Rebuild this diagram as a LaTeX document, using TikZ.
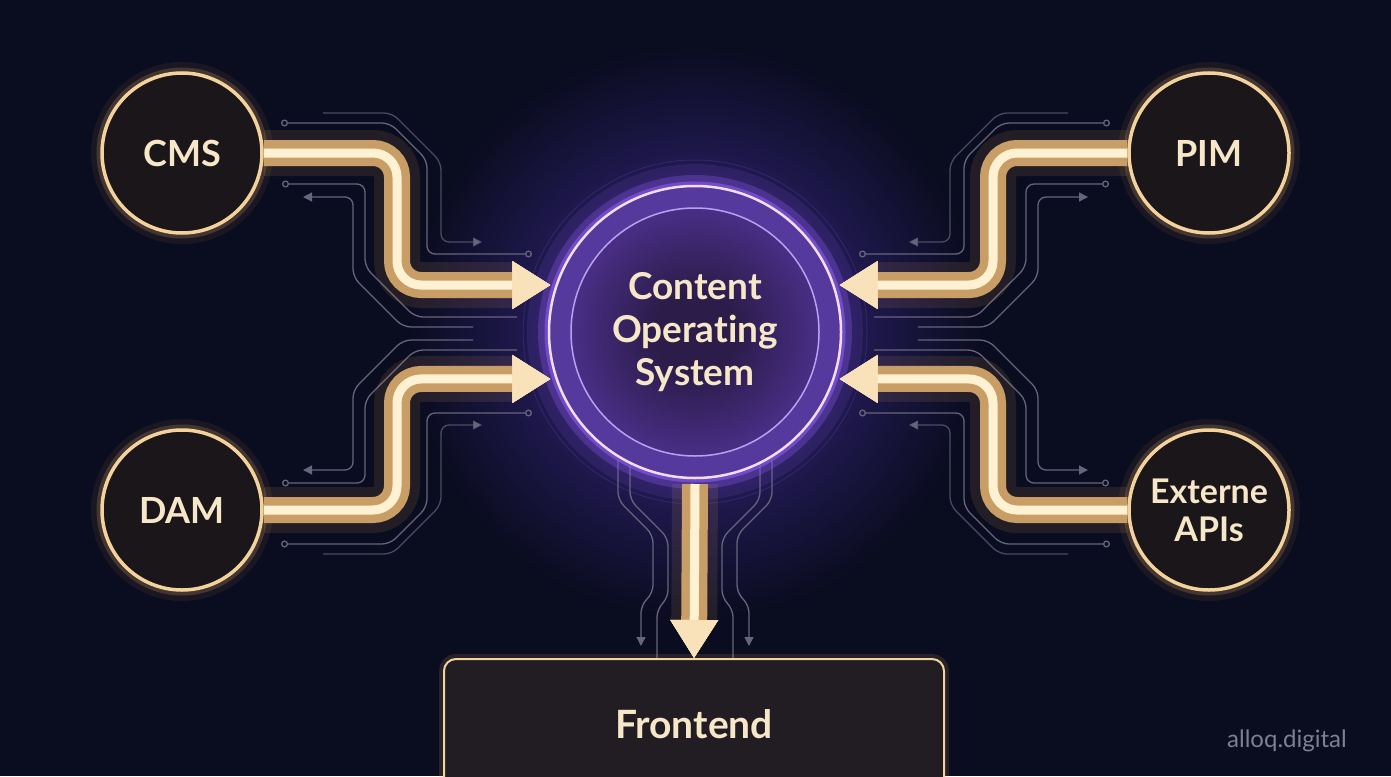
\documentclass[tikz,border=0pt]{standalone}
\usepackage{fontspec}
\setmainfont{Lato}[Ligatures=NoCommon]
\usetikzlibrary{arrows.meta, calc}

\definecolor{bgnavy}{HTML}{0A0C1F}
\definecolor{halo}{HTML}{2A1F66}
\definecolor{ringtan}{HTML}{F3D29C}
\definecolor{glowtan}{HTML}{D9A45C}
\definecolor{nodefill}{HTML}{1B1619}
\definecolor{labelcream}{HTML}{F7E7C9}
\definecolor{flowtan}{HTML}{C99E66}
\definecolor{flowcore}{HTML}{FFF1D2}
\definecolor{flowhead}{HTML}{F9E2B9}
\definecolor{tracegray}{HTML}{66657C}
\definecolor{cosband}{HTML}{56399C}
\definecolor{cosring}{HTML}{F2DDF2}
\definecolor{cosglow}{HTML}{8D5CF0}
\definecolor{cosedge}{HTML}{B8A2EE}
\definecolor{cosinner}{HTML}{2B1C49}
\definecolor{cosmid}{HTML}{4A2E86}
\definecolor{frontfill}{HTML}{221C23}
\definecolor{markgray}{HTML}{7E8092}

\pgfdeclareradialshading{cosfill}{\pgfpoint{0bp}{0bp}}{color(0bp)=(cosinner); color(8bp)=(cosinner); color(25bp)=(cosmid); color(50bp)=(cosmid)}
\pgfdeclareradialshading{bghalo}{\pgfpoint{0bp}{0bp}}{color(0bp)=(halo); color(9bp)=(halo); color(24bp)=(bgnavy); color(50bp)=(bgnavy)}

\tikzset{%
    portring/.tip={Circle[open, length=7pt]},
    feed/.tip={Triangle[length=9pt, width=9pt]},
    trace/.style={draw=tracegray, line width=1.3pt, rounded corners=8pt},
    source/.style={%
        circle, minimum size=160pt, draw=ringtan, line width=3.5pt,
        fill=nodefill, text=labelcream, align=center,
        font=\fontsize{36}{40}\selectfont\bfseries,
        preaction={draw=glowtan, line width=22pt, draw opacity=.08},
        preaction={draw=glowtan, line width=11pt, draw opacity=.22}
    },
    cos ring/.style={%
        circle, minimum size=292pt, fill=cosband, draw=cosring,
        line width=2.5pt, outer sep=6pt,
        preaction={draw=cosglow, line width=44pt, draw opacity=.12},
        preaction={draw=cosglow, line width=22pt, draw opacity=.3},
        preaction={draw=cosglow, line width=9pt, draw opacity=.6}
    },
    cos core/.style={%
        circle, minimum size=248pt, shade, shading=cosfill, draw=cosedge,
        line width=1.5pt, text=labelcream, align=center,
        font=\fontsize{37}{43}\selectfont\bfseries
    },
    front box/.style={%
        rectangle, rounded corners=12pt, minimum width=500pt,
        minimum height=130pt, fill=frontfill, draw=ringtan, line width=2pt,
        text=labelcream, font=\fontsize{39}{42}\selectfont\bfseries,
        preaction={draw=glowtan, line width=10pt, draw opacity=.15}
    },
    flow/.style={rounded corners=24pt,
        -{Triangle[length=38pt, width=48pt, line width=.5pt, color=flowhead]}},
    flowglow/.style={flow, line width=46pt, draw=glowtan, draw opacity=.12},
    flowbody/.style={flow, line width=26pt, draw=flowtan},
    flowcore/.style={flow, line width=9pt, draw=flowcore}
}

\begin{document}
\begin{tikzpicture}[x=1pt, y=-1pt]
\fill[bgnavy] (0,0) rectangle (1391,776);
\useasboundingbox (0,0) rectangle (1391,776);
\shade[shading=bghalo] (695,332) circle (300pt);

% circuit traces, one quadrant mirrored four times
\foreach \sx/\sy in {1/1, -1/1, 1/-1, -1/-1} {
  \begin{scope}[shift={({(1-(\sx))*695.5},{(1-(\sy))*333.5})}, xscale=\sx, yscale=\sy]
    \draw[trace, {portring}-{portring}] (281,123) -- (390,123) -- (427,160) -- (427,254) -- (532,254);
    \draw[trace, draw opacity=.7, -{feed}] (323,113) -- (392,113) -- (441,162) -- (441,242) -- (482,242);
    \draw[trace, {portring}-] (282,184) -- (365,184) -- (365,267) -- (415,317) -- (517,317);
    \draw[trace, {feed}-] (303,197) -- (353,197) -- (353,277) -- (403,327) -- (473,327);
  \end{scope}
}
\foreach \sx in {1, -1} {
  \begin{scope}[shift={({(1-(\sx))*695},0)}, xscale=\sx]
    \draw[trace, -{feed}] (618,460) -- (618,500) -- (653,535) -- (653,593) -- (641,605) -- (641,646);
    \draw[trace] (630,465) -- (630,500) -- (668,538) -- (668,598) -- (657,609) -- (657,659);
  \end{scope}
}

% nodes
\draw[cosglow, draw opacity=.18, line width=1pt] (695,332) circle (172pt);
\node[cos ring] (cos) at (695,332) {};
\node[cos core] (core) at (cos.center) {Content\\Operating\\System};

\node[source] (cms) at (182,153) {CMS};
\node[source] (dam) at (182,510) {DAM};
\node[source] (pim) at (1209,153) {PIM};
\node[source, font=\fontsize{34}{38}\selectfont\bfseries] (api) at (1209,510) {Externe\\APIs};

\node[front box] (front) at (694,724) {Frontend};

\node[text=markgray, font=\fontsize{24}{28}\selectfont] (brand) at (1287,741) {alloq.digital};

\coordinate (bend cms) at (397,220);
\coordinate (bend dam) at (397,445);
\coordinate (bend pim) at (993,220);
\coordinate (bend api) at (993,445);

% flows
\foreach \layer in {flowglow, flowbody, flowcore} {
  \draw[\layer] (cms.east) -| (bend cms) |- (cos.162);
  \draw[\layer] (dam.east) -| (bend dam) |- (cos.198);
  \draw[\layer] (pim.west) -| (bend pim) |- (cos.18);
  \draw[\layer] (api.west) -| (bend api) |- (cos.342);
  \draw[\layer] (cos.south) -- (front.north);
}
\end{tikzpicture}
\end{document}
